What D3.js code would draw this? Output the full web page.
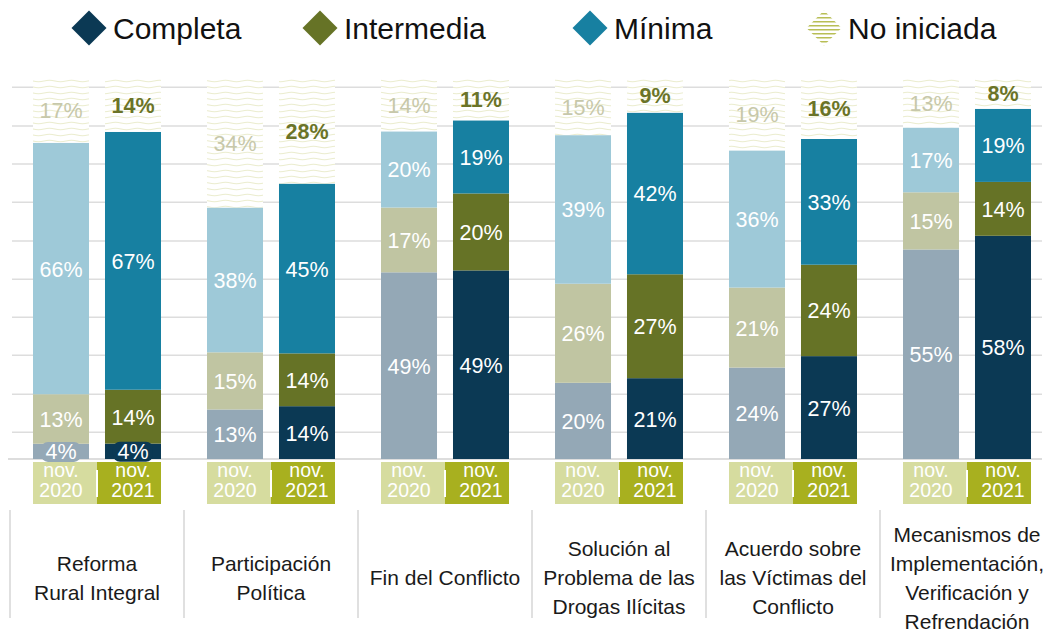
<!DOCTYPE html>
<html>
<head>
<meta charset="utf-8">
<script src="https://cdn.jsdelivr.net/npm/d3@7"></script>
<style>
  body { margin: 0; background: #fff; }
  svg { display: block; font-family: "Helvetica Neue", "Liberation Sans", Arial, sans-serif; }
</style>
</head>
<body>
<svg id="chart" width="1050" height="631"></svg>
<script>
// Chart data
const categories = ['Reforma Rural Integral', 'Participación Política', 'Fin del Conflicto',
  'Solución al Problema de las Drogas Ilícitas', 'Acuerdo sobre las Víctimas del Conflicto',
  'Mecanismos de Implementación, Verificación y Refrendación']
const categoryLines = [
  ['Reforma', 'Rural Integral'],
  ['Participación', 'Política'],
  ['Fin del Conflicto'],
  ['Solución al', 'Problema de las', 'Drogas Ilícitas'],
  ['Acuerdo sobre', 'las Víctimas del', 'Conflicto'],
  ['Mecanismos de', 'Implementación,', 'Verificación y', 'Refrendación']
]
const periods = ['2020', '2021']
const periodLabels = ['nov.', 'nov.']
const keys = ['Completa', 'Intermedia', 'Mínima', 'No iniciada']

const completa2020 = [4, 13, 49, 20, 24, 55]
const intermedia2020 = [13, 15, 17, 26, 21, 15]
const minima2020 = [66, 38, 20, 39, 36, 17]
const noIniciada2020 = [17, 34, 14, 15, 19, 13]

const completa2021 = [4, 14, 49, 21, 27, 58]
const intermedia2021 = [14, 14, 20, 27, 24, 14]
const minima2021 = [67, 45, 19, 42, 33, 19]
const noIniciada2021 = [14, 28, 11, 9, 16, 8]

const gridTicks = [0.07, 0.17, 0.272, 0.372, 0.472, 0.572, 0.674, 0.774, 0.874, 0.976]

// Colours
const colors = {
  '2021': { Completa: '#0b3954', Intermedia: '#667326', 'Mínima': '#1780a1' },
  '2020': { Completa: '#94a8b6', Intermedia: '#c0c5a2', 'Mínima': '#9ec9d8' }
}
const wavyLabel = { '2020': '#c7c8aa', '2021': '#6b7428' }
const boxColor = { '2020': '#d6dc9f', '2021': '#a8b01f' }

// Build rows for the stack
const series = {
  '2020': [completa2020, intermedia2020, minima2020, noIniciada2020],
  '2021': [completa2021, intermedia2021, minima2021, noIniciada2021]
}
const rows = []
categories.forEach((c, i) => {
  periods.forEach(p => {
    const r = { cat: c, period: p }
    keys.forEach((k, j) => { r[k] = series[p][j][i] })
    rows.push(r)
  })
})

const stacked = d3.stack().keys(keys).offset(d3.stackOffsetExpand)(rows)

const svg = d3.select('#chart')

const x0 = d3.scaleBand().domain(categories).range([10, 1054])
const x1 = d3.scaleBand().domain(periods).range([23, 151]).paddingInner(0.222)
const y = d3.scaleLinear().domain([0, 1]).range([459, 78])

// Patterns
const defs = svg.append('defs')
const wave = defs.append('pattern').attr('id', 'wave')
  .attr('patternUnits', 'userSpaceOnUse').attr('width', 22).attr('height', 6)
wave.append('rect').attr('width', 22).attr('height', 6).attr('fill', '#fff')
wave.append('path').attr('d', 'M0 3 Q5.5 1.6 11 3 T22 3')
  .attr('fill', 'none').attr('stroke', '#ebedcf').attr('stroke-width', 1.1)

const stripes = defs.append('pattern').attr('id', 'stripes')
  .attr('patternUnits', 'userSpaceOnUse').attr('width', 10).attr('height', 4)
stripes.append('rect').attr('width', 10).attr('height', 4).attr('fill', '#fff')
stripes.append('rect').attr('y', 1).attr('width', 10).attr('height', 1.5).attr('fill', '#b8be55')

// Gridlines
svg.append('g').selectAll('line').data(gridTicks).join('line')
  .attr('x1', 12).attr('x2', 1042)
  .attr('y1', d => y(d)).attr('y2', d => y(d))
  .attr('stroke', '#dddddd').attr('stroke-width', 1.5)
svg.append('line').attr('x1', 8).attr('x2', 1042).attr('y1', y(0)).attr('y2', y(0))
  .attr('stroke', '#d2d2d2').attr('stroke-width', 1.5)

const barX = d => x0(d.data.cat) + x1(d.data.period)
const bw = x1.bandwidth()

// Bars
const layers = svg.append('g').selectAll('g').data(stacked).join('g')
layers.selectAll('rect').data(s => s.map(d => Object.assign(d, { key: s.key }))).join('rect')
  .attr('x', barX)
  .attr('y', d => y(d[1]))
  .attr('width', bw)
  .attr('height', d => y(d[0]) - y(d[1]))
  .attr('fill', d => d.key === 'No iniciada' ? 'url(#wave)' : colors[d.data.period][d.key])

// Bump backgrounds for small labels
const allSegs = stacked.flatMap(s => s)
svg.append('g').selectAll('rect')
  .data(allSegs.filter(d => d.key !== 'No iniciada' && d.data[d.key] < 6))
  .join('rect')
  .attr('x', d => barX(d) + bw / 2 - 20)
  .attr('y', d => (y(d[0]) + y(d[1])) / 2 - 9.5)
  .attr('width', 40).attr('height', 20).attr('rx', 7)
  .attr('fill', d => colors[d.data.period][d.key])

// Labels
svg.append('g').selectAll('text').data(allSegs).join('text')
  .attr('x', d => barX(d) + bw / 2)
  .attr('y', d => (y(d[0]) + y(d[1])) / 2 + 1)
  .attr('text-anchor', 'middle')
  .attr('dominant-baseline', 'central')
  .attr('font-size', 21.5)
  .attr('font-weight', d => d.data.period === '2021' && d.key === 'No iniciada' ? 'bold' : 'normal')
  .attr('fill', d => d.key === 'No iniciada' ? wavyLabel[d.data.period] : '#fff')
  .text(d => d.data[d.key] + '%')

// nov. boxes
const boxes = svg.append('g').selectAll('g').data(categories).join('g')
  .attr('transform', c => `translate(${x0(c)},0)`)
const mid = (x1('2020') + x1('2021') + bw) / 2
boxes.append('rect').attr('x', x1('2020')).attr('y', 462).attr('width', mid - x1('2020')).attr('height', 42)
  .attr('fill', boxColor['2020'])
boxes.append('rect').attr('x', mid).attr('y', 462).attr('width', x1('2021') + bw - mid).attr('height', 42)
  .attr('fill', boxColor['2021'])
boxes.append('rect').attr('x', mid - 1).attr('y', 470).attr('width', 2).attr('height', 27).attr('fill', '#fff')
periods.forEach((p, i) => {
  const t = boxes.append('text').attr('text-anchor', 'middle').attr('fill', '#fff').attr('font-size', 19.5)
  t.append('tspan').attr('x', x1(p) + bw / 2).attr('y', 477).text(periodLabels[i])
  t.append('tspan').attr('x', x1(p) + bw / 2).attr('y', 497).text(p)
})

// Category labels and separators
const cats = svg.append('g').selectAll('g').data(categories).join('g')
  .attr('transform', c => `translate(${x0(c)},0)`)
cats.append('line').attr('x1', 0).attr('x2', 0).attr('y1', 510).attr('y2', 618)
  .attr('stroke', '#d6d6d6').attr('stroke-width', 1.5)
cats.append('text').attr('text-anchor', 'middle').attr('font-size', 21).attr('fill', '#1a1a1a')
  .each(function (c, i) {
    const lines = categoryLines[i]
    const lh = 29
    const start = 578 - (lines.length - 1) * lh / 2 + 7
    d3.select(this).selectAll('tspan').data(lines).join('tspan')
      .attr('x', x0.bandwidth() / 2)
      .attr('y', (l, j) => start + j * lh)
      .text(l => l)
  })

// Legend
const legendPos = [89, 320, 590, 824]
const legend = svg.append('g').selectAll('g').data(keys).join('g')
  .attr('transform', (k, i) => `translate(${legendPos[i]},28)`)
legend.append('path').attr('d', 'M0 -17.5 L17.5 0 L0 17.5 L-17.5 0 Z')
  .attr('fill', k => k === 'No iniciada' ? 'url(#stripes)' : colors['2021'][k])
legend.append('text').attr('x', 24).attr('y', 10.5).attr('font-size', 30).attr('fill', '#111')
  .text(k => k)
</script>
</body>
</html>
